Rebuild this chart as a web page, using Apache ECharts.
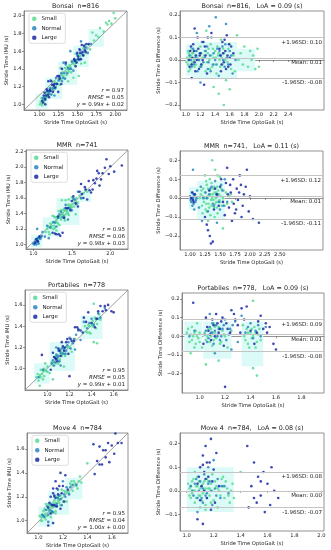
<!DOCTYPE html>
<html><head><meta charset="utf-8">
<script src="https://cdn.jsdelivr.net/npm/echarts@6/dist/echarts.min.js"></script>
<style>html,body{margin:0;padding:0;background:#fff}#c{width:331px;height:550px}</style>
</head><body><div id="c"></div>
<script>
// ---------- data ----------
const devices = ['Bonsai', 'MMR', 'Portabiles', 'Move 4'];
const nStrides = [816, 741, 778, 784];
const loaText = ['0.09', '0.11', '0.09', '0.08'];
const rValues = ['0.97', '0.95', '0.95', '0.95'];
const rmseValues = ['0.05', '0.06', '0.05', '0.04'];
const slopes = ['0.99', '0.98', '0.99', '1.00'];
const intercepts = ['0.02', '0.03', '0.01', '0.00'];
const meanDiff = [0.008, 0.007, 0.008, 0.003];
const upperLoA = [0.098, 0.117, 0.092, 0.078];
const lowerLoA = [-0.082, -0.107, -0.080, -0.072];
const groupNames = ['Small', 'Normal', 'Large'];

// axis limits and tick labels
const scatterXRange = [[0.80, 2.155], [0.905, 2.23], [0.797, 1.73], [0.906, 1.733]];
const scatterYRange = [[0.936, 2.053], [0.94, 2.22], [0.80, 1.74], [0.897, 1.734]];
const baXRange = [[0.92, 2.89], [0.833, 3.22], [0.862, 1.977], [0.95, 2.02]];
const baYRange = [[-0.222, 0.218], [-0.274, 0.249], [-0.303, 0.232], [-0.170, 0.245]];
const scatterXTicks = [[1.00, 1.25, 1.50, 1.75, 2.00], [1.0, 1.5, 2.0], [1.0, 1.2, 1.4, 1.6], [1.0, 1.2, 1.4, 1.6]];
const scatterXDecimals = [2, 1, 1, 1];
const scatterYTicks = [[1.0, 1.2, 1.4, 1.6, 1.8, 2.0], [1.0, 1.2, 1.4, 1.6, 1.8, 2.0, 2.2], [1.0, 1.2, 1.4, 1.6], [1.0, 1.2, 1.4, 1.6]];
const baXTicks = [[1.0, 1.2, 1.4, 1.6, 1.8, 2.0, 2.2, 2.4], [1.00, 1.25, 1.50, 1.75, 2.00, 2.25, 2.50], [1.0, 1.2, 1.4, 1.6, 1.8], [1.0, 1.2, 1.4, 1.6, 1.8, 2.0]];
const baXDecimals = [1, 2, 1, 1];
const baYTicks = [[-0.2, -0.1, 0.0, 0.1, 0.2], [-0.2, -0.1, 0.0, 0.1, 0.2], [-0.2, -0.1, 0.0, 0.1, 0.2], [-0.1, 0.0, 0.1, 0.2]];

// pale density regions: [x0, x1, y0, y1] in data units
const densityScatter = [
  [[0.95,1.12,0.95,1.12],[1.08,1.3,1.06,1.3],[1.25,1.5,1.22,1.48],[1.45,1.65,1.42,1.66],[1.65,1.85,1.65,1.85]],
  [[0.97,1.12,0.96,1.12],[1.12,1.35,1.1,1.35],[1.3,1.6,1.25,1.6],[1.6,1.75,1.55,1.7]],
  [[0.88,1.02,0.86,1.05],[1.02,1.25,0.98,1.25],[1.3,1.5,1.28,1.5]],
  [[1.0,1.12,0.95,1.12],[1.08,1.25,1.05,1.25],[1.22,1.36,1.18,1.36]]
];
const densityBA = [
  [[1.0,1.1,-0.07,0.07],[1.1,1.7,-0.08,0.08],[1.7,1.95,-0.05,0.05]],
  [[0.98,1.12,-0.06,0.06],[1.12,1.58,-0.11,0.09]],
  [[0.88,1.02,-0.08,0.08],[1.03,1.25,-0.12,0.08],[1.33,1.5,-0.16,0.08]],
  [[1.0,1.35,-0.09,0.1]]
];

// points: [stride time OptoGait (s), difference IMU - OptoGait (s)]
const bonsaiSmall = [[1.02,0.01],[1.03,-0.02],[1.04,0.03],[1.05,0.0],[1.06,-0.04],[1.07,0.02],[1.08,0.05],[1.09,-0.01],[1.1,0.03],[1.12,-0.03],[1.15,0.04],[1.18,0.0],[1.2,0.06],[1.22,-0.02],[1.25,0.02],[1.27,-0.05],[1.3,0.03],[1.32,0.0],[1.34,0.07],[1.36,-0.03],[1.38,0.01],[1.4,0.04],[1.42,-0.06],[1.44,0.02],[1.46,0.0],[1.48,0.09],[1.5,-0.02],[1.52,0.03],[1.55,-0.09],[1.58,0.05],[1.62,-0.04],[1.65,0.02],[1.7,0.11],[1.75,0.03],[1.8,0.06],[1.85,-0.03],[1.9,0.0],[1.95,-0.04],[1.92,0.02],[1.38,-0.12],[1.45,-0.15],[1.28,0.13],[1.52,-0.2],[1.6,-0.13],
  [1.01,-0.01],[1.03,0.04],[1.04,-0.05],[1.06,0.01],[1.07,-0.02],[1.09,0.03],[1.11,0.0],[1.13,0.02],[1.14,-0.02],[1.16,0.01],[1.19,-0.03],[1.21,0.03],[1.23,0.01],[1.26,0.04],[1.29,-0.01],[1.31,0.05],[1.33,-0.04],[1.35,0.02],[1.37,0.05],[1.39,-0.02],[1.41,0.01],[1.43,0.06],[1.45,0.03],[1.47,-0.03],[1.49,0.01],[1.51,0.05],[1.54,0.0],[1.57,-0.01],[1.6,0.07],[1.67,-0.05],[1.72,0.0],[1.78,-0.02],[1.88,0.04],[2.0,-0.03],[1.98,0.05]];
const bonsaiNormal = [[1.05,0.02],[1.08,-0.03],[1.1,0.05],[1.13,0.01],[1.16,-0.05],[1.19,0.03],[1.22,0.08],[1.24,-0.01],[1.27,0.04],[1.3,-0.04],[1.33,0.02],[1.35,0.1],[1.37,-0.02],[1.4,0.0],[1.43,0.05],[1.45,-0.07],[1.48,0.02],[1.5,0.06],[1.53,-0.03],[1.56,0.01],[1.6,0.04],[1.64,-0.06],[1.68,0.0],[1.2,-0.1],[1.32,0.15],[1.41,0.19],[1.15,0.12],[1.55,0.16],
  [1.07,0.0],[1.11,-0.02],[1.14,0.04],[1.18,0.0],[1.21,-0.03],[1.26,0.01],[1.29,0.06],[1.31,-0.01],[1.34,-0.05],[1.38,0.03],[1.42,-0.02],[1.46,0.04],[1.51,0.0],[1.54,0.07],[1.58,-0.02],[1.62,0.02]];
const bonsaiLarge = [[1.04,0.0],[1.06,0.04],[1.08,-0.02],[1.1,0.07],[1.12,-0.01],[1.14,0.02],[1.16,0.1],[1.18,-0.04],[1.2,0.03],[1.23,0.0],[1.26,0.06],[1.29,-0.06],[1.12,0.14],[1.08,-0.08],[1.47,0.02],[1.5,0.08],[1.52,-0.01],[1.54,0.04],[1.56,0.11],[1.58,-0.03],[1.6,0.01],[1.62,0.06],[1.48,-0.05],[1.35,0.12],[1.25,-0.11],
  [1.05,-0.03],[1.07,0.06],[1.09,0.01],[1.11,0.04],[1.13,-0.05],[1.15,0.0],[1.17,0.05],[1.19,0.02],[1.21,-0.02],[1.24,0.08],[1.27,0.02],[1.3,0.1],[1.46,0.05],[1.49,-0.02],[1.51,0.03],[1.53,0.09],[1.55,-0.04],[1.57,0.02],[1.59,0.07],[1.61,-0.02],[1.65,0.03]];

const mmrSmall = [[1.18,0.02],[1.2,-0.04],[1.22,0.05],[1.24,0.0],[1.26,-0.06],[1.28,0.07],[1.3,0.01],[1.31,-0.03],[1.33,0.04],[1.35,-0.01],[1.36,0.08],[1.38,0.02],[1.4,-0.05],[1.41,0.03],[1.43,0.0],[1.45,0.06],[1.46,-0.08],[1.48,0.02],[1.5,-0.02],[1.52,0.05],[1.55,0.0],[1.58,-0.04],[1.6,0.03],[1.65,0.01],[1.7,-0.02],[1.25,0.12],[1.37,0.2],[1.42,0.15],[1.3,-0.12],[1.55,-0.16],[1.5,0.11],[1.34,-0.09],[1.27,0.09],[1.44,-0.02],[1.39,0.05],[1.21,-0.08],
  [1.16,0.0],[1.19,0.04],[1.21,0.01],[1.23,-0.02],[1.25,0.03],[1.27,-0.03],[1.29,0.0],[1.3,0.05],[1.32,-0.05],[1.34,0.02],[1.36,-0.04],[1.37,0.0],[1.39,-0.01],[1.4,0.06],[1.42,-0.03],[1.44,0.03],[1.45,-0.05],[1.47,0.04],[1.49,-0.01],[1.51,0.01],[1.53,-0.04],[1.56,0.04],[1.62,-0.03],[1.68,0.02],[1.33,0.1],[1.46,0.12],[1.28,-0.07],[1.41,-0.1]];
const mmrNormal = [[1.0,0.01],[1.02,-0.02],[1.03,0.03],[1.05,0.0],[1.06,-0.03],[1.08,0.02],[1.1,-0.01],[1.12,0.04],[1.15,-0.05],[1.18,0.06],[1.22,0.0],[1.26,0.03],[1.3,-0.07],[1.34,0.05],[1.38,-0.03],[1.42,0.09],[1.46,0.01],[1.5,-0.06],[1.54,0.04],[1.58,0.1],[1.62,-0.02],[1.05,0.15],[1.2,-0.12],[1.45,-0.13],[1.07,-0.06],
  [1.01,-0.01],[1.03,0.0],[1.04,-0.04],[1.06,0.02],[1.07,0.01],[1.09,-0.02],[1.11,0.0],[1.28,0.0],[1.32,0.02],[1.36,0.06],[1.4,-0.04],[1.44,0.02],[1.48,-0.02],[1.52,0.07],[1.56,-0.04]];
const mmrLarge = [[1.25,-0.1],[1.28,-0.14],[1.3,-0.17],[1.33,-0.2],[1.35,-0.24],[1.38,-0.23],[1.32,0.04],[1.4,-0.06],[1.45,0.02],[1.5,0.06],[1.55,-0.02],[1.6,0.08],[1.62,0.16],[1.65,-0.05],[1.68,0.03],[1.72,0.1],[1.75,-0.08],[1.78,0.05],[1.8,-0.01],[1.83,0.12],[1.86,-0.1],[1.9,0.02],[1.95,0.15],[1.98,-0.07],[2.05,-0.11],[2.15,-0.13],[1.7,-0.12],[1.58,-0.09],[1.85,0.07],[1.05,-0.01],[1.08,0.02],
  [1.02,0.0],[1.04,0.03],[1.06,-0.02],[1.42,0.05],[1.48,-0.04],[1.52,0.1],[1.63,0.02],[1.67,0.07],[1.73,-0.03],[1.77,-0.06],[1.82,0.03],[1.88,-0.04],[1.93,0.06],[2.0,0.01]];

const portabilesSmall = [[0.9,0.02],[0.92,-0.03],[0.94,0.05],[0.95,0.0],[0.96,-0.06],[0.97,0.03],[0.98,0.07],[0.99,-0.01],[1.0,0.02],[1.05,-0.02],[1.07,0.04],[1.09,0.0],[1.1,-0.05],[1.12,0.02],[1.13,-0.01],[1.15,0.05],[1.17,-0.03],[1.19,0.01],[1.22,-0.06],[1.25,0.03],[1.35,0.0],[1.37,0.04],[1.38,-0.04],[1.4,0.02],[1.41,-0.01],[1.43,0.05],[1.44,-0.06],[1.46,0.01],[1.48,-0.02],[1.05,-0.15],[1.15,-0.13],[1.42,-0.17],[1.45,-0.21],[1.42,0.19],[1.11,0.07],[0.93,-0.09],
  [0.91,0.04],[0.93,0.01],[0.94,-0.02],[0.96,0.02],[0.97,-0.04],[0.98,0.0],[1.0,-0.03],[1.04,0.02],[1.06,0.0],[1.08,-0.03],[1.09,0.04],[1.11,-0.02],[1.12,0.05],[1.14,0.01],[1.16,-0.04],[1.18,0.03],[1.2,0.0],[1.36,-0.02],[1.38,0.02],[1.39,-0.06],[1.41,0.04],[1.42,0.0],[1.44,0.02],[1.45,-0.03],[1.47,0.04],[1.34,0.06],[1.02,-0.06]];
const portabilesNormal = [[0.92,0.0],[0.96,0.03],[1.04,0.01],[1.06,-0.03],[1.08,0.05],[1.1,0.02],[1.11,-0.04],[1.13,0.06],[1.14,0.0],[1.16,-0.02],[1.18,0.04],[1.2,0.09],[1.23,0.01],[1.26,0.06],[1.3,-0.03],[1.33,0.11],[1.36,0.02],[1.4,0.07],[1.44,0.03],[1.48,0.0],[1.52,0.05],[1.12,-0.09],[1.08,0.12],[1.25,-0.07],
  [1.05,0.03],[1.07,-0.01],[1.09,0.02],[1.1,0.07],[1.12,0.03],[1.15,0.04],[1.17,0.0],[1.19,0.06],[1.21,-0.02],[1.24,0.04],[1.28,0.08],[1.38,0.05],[1.42,-0.01],[1.46,0.06]];
const portabilesLarge = [[0.95,0.18],[1.05,0.1],[1.07,0.03],[1.09,-0.02],[1.11,0.06],[1.13,0.12],[1.15,0.02],[1.17,0.08],[1.2,-0.27],[1.22,0.04],[1.25,0.14],[1.28,0.09],[1.3,0.06],[1.33,0.15],[1.37,0.16],[1.4,0.03],[1.43,-0.04],[1.46,0.08],[1.5,0.04],[1.53,0.02],[1.55,0.05],[1.58,-0.04],[1.6,-0.07],[1.19,-0.05],[1.03,-0.04],
  [1.06,0.05],[1.08,0.01],[1.1,0.09],[1.12,0.0],[1.14,0.07],[1.16,0.04],[1.18,0.1],[1.21,0.07],[1.24,0.02],[1.27,0.12],[1.32,0.02],[1.35,0.09],[1.45,0.02],[1.48,0.11],[1.52,0.07]];

const move4Small = [[1.02,0.01],[1.03,-0.03],[1.04,0.04],[1.05,0.0],[1.06,-0.05],[1.07,0.02],[1.08,0.06],[1.09,-0.02],[1.1,0.01],[1.11,-0.04],[1.12,0.03],[1.13,0.0],[1.14,-0.06],[1.15,0.05],[1.16,0.01],[1.17,-0.02],[1.18,0.03],[1.2,-0.04],[1.22,0.02],[1.24,0.0],[1.26,0.05],[1.28,-0.03],[1.3,0.01],[1.32,-0.05],[1.34,0.03],[1.4,0.08],[1.14,-0.08],[1.06,0.08],[1.23,-0.07],[1.19,0.07],[1.1,-0.07],[1.27,0.06],
  [1.01,0.03],[1.02,-0.02],[1.03,0.02],[1.04,-0.01],[1.05,0.05],[1.06,0.0],[1.07,-0.03],[1.08,0.02],[1.09,0.04],[1.1,-0.02],[1.11,0.02],[1.12,-0.01],[1.13,0.04],[1.14,0.01],[1.15,-0.03],[1.16,0.04],[1.17,0.01],[1.18,-0.05],[1.19,0.0],[1.21,0.04],[1.23,0.01],[1.25,-0.02],[1.27,0.02],[1.29,0.04],[1.31,-0.02],[1.33,0.0],[1.35,-0.03]];
const move4Normal = [[1.03,0.02],[1.05,-0.02],[1.07,0.05],[1.09,0.0],[1.11,-0.03],[1.13,0.07],[1.15,-0.01],[1.17,0.04],[1.19,-0.06],[1.21,0.01],[1.23,0.05],[1.25,-0.03],[1.28,0.02],[1.31,-0.01],[1.08,-0.09],[1.16,0.1],[1.2,0.13],[1.12,-0.05],
  [1.04,0.0],[1.06,0.03],[1.08,-0.03],[1.1,0.04],[1.12,0.01],[1.14,-0.02],[1.16,0.03],[1.18,0.0],[1.22,-0.02],[1.26,0.02]];
const move4Large = [[1.08,0.03],[1.1,0.1],[1.12,0.15],[1.14,0.19],[1.15,0.12],[1.16,0.06],[1.18,0.22],[1.2,0.09],[1.22,0.16],[1.12,-0.14],[1.08,-0.12],[1.1,-0.04],[1.13,0.0],[1.18,-0.08],[1.45,0.19],[1.48,0.02],[1.5,0.12],[1.52,-0.05],[1.53,0.06],[1.55,-0.02],[1.57,0.08],[1.58,-0.09],[1.6,0.03],[1.62,-0.06],[1.63,0.1],[1.65,0.0],[1.68,-0.03],[1.46,-0.07],[1.5,-0.03],[1.55,0.04],
  [1.09,0.06],[1.11,0.02],[1.13,0.08],[1.15,-0.03],[1.17,0.12],[1.19,0.04],[1.21,-0.05],[1.14,0.05],[1.24,0.02],[1.12,0.11]];

const pointSets = [
  [bonsaiSmall, bonsaiNormal, bonsaiLarge],
  [mmrSmall, mmrNormal, mmrLarge],
  [portabilesSmall, portabilesNormal, portabilesLarge],
  [move4Small, move4Normal, move4Large]
];

// ---------- layout & style ----------
const FONT = 'DejaVu Sans';
const TXT = '#222';
const groupColors = ['#55dc90', '#2a86c0', '#1c2aa6'];
const SHADE = '#dcfbf8';
// [left, top, width, height] for each panel (left, right) per row
const boxes = [
  [24, 11, 103, 99], [180, 11, 144, 99],
  [26, 150, 102, 99], [180, 151, 143, 99],
  [25, 290, 103, 100], [182, 293, 142, 100],
  [27, 433, 101, 100], [180, 433, 144, 98]
];
const fmt = (v, d) => { const s = Number(v).toFixed(d); return s.charAt(0) === '-' ? '\u2212' + s.slice(1) : s; };

function mkGrid(b) {
  return { left: b[0], top: b[1], width: b[2], height: b[3], show: true, borderColor: '#777', borderWidth: 0.8, containLabel: false };
}
function mkAxis(gi, range, ticks, dec, name, gap) {
  return {
    type: 'value', gridIndex: gi, min: range[0], max: range[1],
    name: name, nameLocation: 'middle', nameGap: gap,
    nameTextStyle: { fontSize: 5.2, color: TXT, fontFamily: FONT },
    axisLine: { show: true, lineStyle: { color: '#777', width: 0.8 } },
    axisTick: { show: true, length: 2, customValues: ticks, lineStyle: { color: '#555', width: 0.6 } },
    axisLabel: { show: true, customValues: ticks, formatter: v => fmt(v, dec), fontSize: 5.2, color: TXT, margin: 2.5, fontFamily: FONT },
    splitLine: { show: false }
  };
}
function shadeSeries(axisIdx, regions) {
  return {
    type: 'line', xAxisIndex: axisIdx, yAxisIndex: axisIdx, data: [], silent: true, animation: false, z: 0,
    markArea: {
      silent: true, animation: false, itemStyle: { color: SHADE, opacity: 1 },
      data: regions.map(r => [{ coord: [r[0], r[2]] }, { coord: [r[1], r[3]] }])
    }
  };
}

const grid = [], xAxis = [], yAxis = [], series = [], title = [], legend = [], graphic = [];
for (let i = 0; i < 4; i++) {
  const L = boxes[2 * i], R = boxes[2 * i + 1];
  grid.push(mkGrid(L), mkGrid(R));
  xAxis.push(mkAxis(2 * i, scatterXRange[i], scatterXTicks[i], scatterXDecimals[i], 'Stride Time OptoGait (s)', 10));
  xAxis.push(mkAxis(2 * i + 1, baXRange[i], baXTicks[i], baXDecimals[i], 'Stride Time OptoGait (s)', 10));
  yAxis.push(mkAxis(2 * i, scatterYRange[i], scatterYTicks[i], 1, 'Stride Time IMU (s)', 14));
  yAxis.push(mkAxis(2 * i + 1, baYRange[i], baYTicks[i], 1, 'Stride Time Difference (s)', 12.5));

  title.push({
    text: devices[i] + '  n=' + nStrides[i], left: L[0] + L[2] / 2, top: L[1] - 8, textAlign: 'center', padding: 0,
    textStyle: { fontSize: 6.4, fontWeight: 'normal', color: TXT, fontFamily: FONT }
  });
  title.push({
    text: devices[i] + '  n=' + nStrides[i] + ',   LoA = ' + loaText[i] + ' (s)', left: R[0] + R[2] / 2, top: R[1] - 8, textAlign: 'center', padding: 0,
    textStyle: { fontSize: 6.4, fontWeight: 'normal', color: TXT, fontFamily: FONT }
  });

  legend.push({
    data: groupNames, orient: 'vertical', left: L[0] + 5, top: L[1] + 2.3,
    padding: [2.5, 4, 2.5, 3], itemWidth: 4.5, itemHeight: 4.5, itemGap: 3.5, icon: 'circle',
    backgroundColor: '#fff', borderColor: '#d6d6d6', borderWidth: 0.8, borderRadius: 2, selectedMode: false,
    textStyle: { fontSize: 5.5, lineHeight: 6, color: TXT, fontFamily: FONT }
  });

  series.push(shadeSeries(2 * i, densityScatter[i]));
  series.push(shadeSeries(2 * i + 1, densityBA[i]));

  // diagonal reference line (corner to corner of the axes)
  series.push({
    type: 'line', xAxisIndex: 2 * i, yAxisIndex: 2 * i, silent: true, animation: false, symbol: 'none', z: 1,
    data: [[scatterXRange[i][0], scatterYRange[i][0]], [scatterXRange[i][1], scatterYRange[i][1]]],
    lineStyle: { color: '#888', width: 0.8 }
  });
  // Bland-Altman mean and limits of agreement
  series.push({
    type: 'line', xAxisIndex: 2 * i + 1, yAxisIndex: 2 * i + 1, data: [], silent: true, animation: false, z: 1,
    markLine: {
      silent: true, symbol: 'none', animation: false,
      lineStyle: { color: '#c4c4c4', width: 1, type: 'solid' },
      label: { position: 'insideEndBottom', fontSize: 5.5, color: TXT, fontFamily: FONT, distance: 2 },
      data: [
        { yAxis: upperLoA[i], label: { formatter: '+1.96SD: ' + upperLoA[i].toFixed(2) } },
        { yAxis: meanDiff[i], label: { formatter: 'Mean: ' + meanDiff[i].toFixed(2) } },
        { yAxis: lowerLoA[i], label: { formatter: '-1.96SD: ' + lowerLoA[i].toFixed(2) } }
      ]
    }
  });
  groupNames.forEach((g, k) => {
    const pts = pointSets[i][k];
    series.push({
      type: 'scatter', name: g, xAxisIndex: 2 * i, yAxisIndex: 2 * i, silent: true, animation: false, z: 2 + k,
      symbolSize: 2.6, itemStyle: { color: groupColors[k], opacity: 0.85 },
      data: pts.map(p => [p[0], +(p[0] + p[1]).toFixed(3)])
    });
    series.push({
      type: 'scatter', name: g, xAxisIndex: 2 * i + 1, yAxisIndex: 2 * i + 1, silent: true, animation: false, z: 2 + k,
      symbolSize: 2.6, itemStyle: { color: groupColors[k], opacity: 0.85 },
      data: pts.map(p => [p[0], p[1]])
    });
  });

  // statistics annotation, bottom right of scatter panel
  const rx = L[0] + L[2] - 3, by = L[1] + L[3];
  const rich = { i: { fontStyle: 'italic', fontSize: 5.5, fontFamily: FONT, fill: TXT } };
  const lines = [
    '{i|r} = ' + rValues[i],
    '{i|RMSE} = ' + rmseValues[i],
    '{i|y} = ' + slopes[i] + '{i|x} + ' + intercepts[i]
  ];
  const offs = [19, 12, 5.7];
  lines.forEach((t, k) => {
    graphic.push({
      type: 'text', x: rx, y: by - offs[k], z: 100, silent: true,
      style: { text: t, rich: rich, fill: TXT, font: '5.5px "DejaVu Sans"', align: 'right', verticalAlign: 'middle' }
    });
  });
}

const chart = echarts.init(document.getElementById('c'), null, { renderer: 'canvas' });
chart.setOption({
  animation: false,
  backgroundColor: '#fff',
  textStyle: { fontFamily: FONT },
  title, legend, grid, xAxis, yAxis, series, graphic
});
</script>
</body></html>
